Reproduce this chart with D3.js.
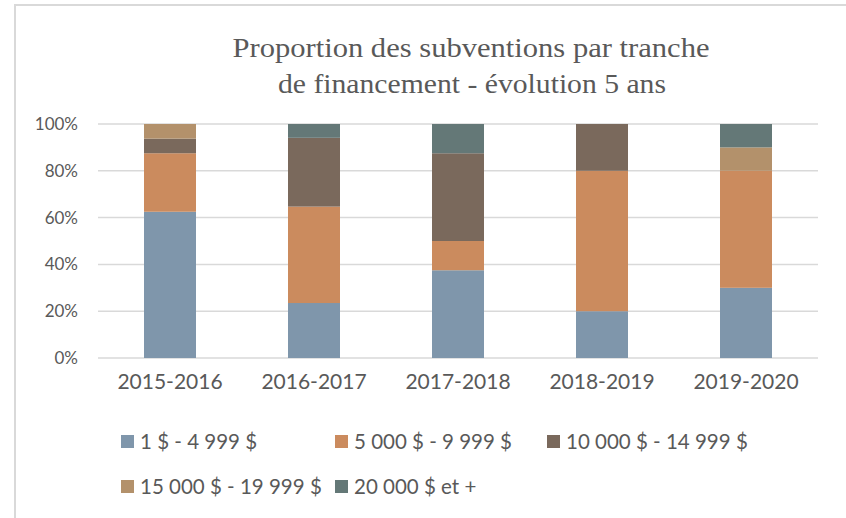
<!DOCTYPE html>
<meta charset="utf-8">
<style>
	body { margin: 0; background: #fff; }
	svg { display: block; }
</style>
<body>
<script src="https://cdn.jsdelivr.net/npm/d3@7"></script>
<script>

var years = ["2015-2016", "2016-2017", "2017-2018", "2018-2019", "2019-2020"];
var tranches = ["1 $ - 4 999 $", "5 000 $ - 9 999 $", "10 000 $ - 14 999 $", "15 000 $ - 19 999 $", "20 000 $ et +"];

// share of grants per tranche, in %
var t1 = [62.5, 23.5, 37.5, 20, 30];
var t2 = [25, 41.2, 12.5, 60, 50];
var t3 = [6.25, 29.4, 37.5, 20, 0];
var t4 = [6.25, 0, 0, 0, 10];
var t5 = [0, 5.9, 12.5, 0, 10];

var yTicks = [0, 0.2, 0.4, 0.6, 0.8, 1];

var colors = ["#7f96ab", "#cb8b5e", "#7a695c", "#b3916b", "#647877"];

var width = 846, height = 518;
var plot = {left: 98, right: 818, top: 124, bottom: 358};
var textColor = "#595959";
var gridColor = "#d9d9d9";
var sansFont = "Lato, 'Open Sans', sans-serif";

var rows = years.map(function(y, i) {
	return {year: y, t1: t1[i], t2: t2[i], t3: t3[i], t4: t4[i], t5: t5[i]};
});
var keys = ["t1", "t2", "t3", "t4", "t5"];
var stacked = d3.stack().keys(keys)(rows);

var svg = d3.select("body").append("svg")
	.attr("width", width)
	.attr("height", height);

// frame (only top and left edges show)
svg.append("line")
	.attr("x1", 14).attr("x2", width)
	.attr("y1", 5).attr("y2", 5)
	.attr("stroke", gridColor).attr("stroke-width", 2);
svg.append("line")
	.attr("x1", 15).attr("x2", 15)
	.attr("y1", 4).attr("y2", height)
	.attr("stroke", gridColor).attr("stroke-width", 2);

var x = d3.scaleBand()
	.domain(years)
	.range([plot.left, plot.right])
	.paddingInner(0.639)
	.paddingOuter(0.639 / 2);

var y = d3.scaleLinear()
	.domain([0, 1])
	.range([plot.bottom, plot.top]);

// gridlines
svg.selectAll("line.grid")
	.data(yTicks)
	.enter()
	.append("line")
	.attr("class", "grid")
	.attr("x1", plot.left)
	.attr("x2", plot.right)
	.attr("y1", function(d) { return y(d); })
	.attr("y2", function(d) { return y(d); })
	.attr("stroke", gridColor)
	.attr("stroke-width", 1.5);

// y axis labels
var yAxis = svg.append("g")
	.attr("transform", "translate(" + (plot.left - 20) + ",0)")
	.call(d3.axisLeft(y).tickValues(yTicks).tickFormat(d3.format(".0%")).tickSize(0).tickPadding(0));
yAxis.select(".domain").remove();
yAxis.selectAll("text")
	.attr("fill", textColor)
	.attr("font-family", sansFont)
	.attr("font-size", "17px");

// bars
svg.selectAll("g.series")
	.data(stacked)
	.enter()
	.append("g")
	.attr("class", "series")
	.attr("fill", function(d, i) { return colors[i]; })
	.selectAll("rect")
	.data(function(d) { return d; })
	.enter()
	.append("rect")
	.attr("x", function(d) { return x(d.data.year); })
	.attr("width", x.bandwidth())
	.attr("y", function(d) { return y(d[1] / 100); })
	.attr("height", function(d) { return y(d[0] / 100) - y(d[1] / 100); });

// x axis labels
var xAxis = svg.append("g")
	.attr("transform", "translate(0," + (plot.bottom + 16) + ")")
	.call(d3.axisBottom(x).tickSize(0).tickPadding(0));
xAxis.select(".domain").remove();
xAxis.selectAll("text")
	.attr("fill", textColor)
	.attr("font-family", sansFont)
	.attr("font-size", "21px");

// title (condensed serif in the original, stretched to the same widths)
var title = svg.append("text")
	.attr("x", 471)
	.attr("y", 57)
	.attr("text-anchor", "middle")
	.attr("fill", textColor)
	.attr("font-family", "'Liberation Serif', 'DejaVu Serif', serif")
	.attr("font-size", "28px");
title.append("tspan").attr("x", 471)
	.attr("textLength", 477).attr("lengthAdjust", "spacingAndGlyphs")
	.text("Proportion des subventions par tranche");
title.append("tspan").attr("x", 472).attr("dy", 36)
	.attr("textLength", 388).attr("lengthAdjust", "spacingAndGlyphs")
	.text("de financement - évolution 5 ans");

// legend
var legendPos = [[121, 442], [335, 442], [547, 442], [121, 487], [335, 487]];
var legend = svg.selectAll("g.legend")
	.data(tranches)
	.enter()
	.append("g")
	.attr("class", "legend")
	.attr("transform", function(d, i) { return "translate(" + legendPos[i][0] + "," + legendPos[i][1] + ")"; });
legend.append("rect")
	.attr("x", 0).attr("y", -7)
	.attr("width", 13).attr("height", 13)
	.attr("fill", function(d, i) { return colors[i]; });
legend.append("text")
	.attr("x", 19)
	.attr("y", 7)
	.attr("fill", textColor)
	.attr("font-family", sansFont)
	.attr("font-size", "20.5px")
	.text(function(d) { return d; });

</script>
</body>
